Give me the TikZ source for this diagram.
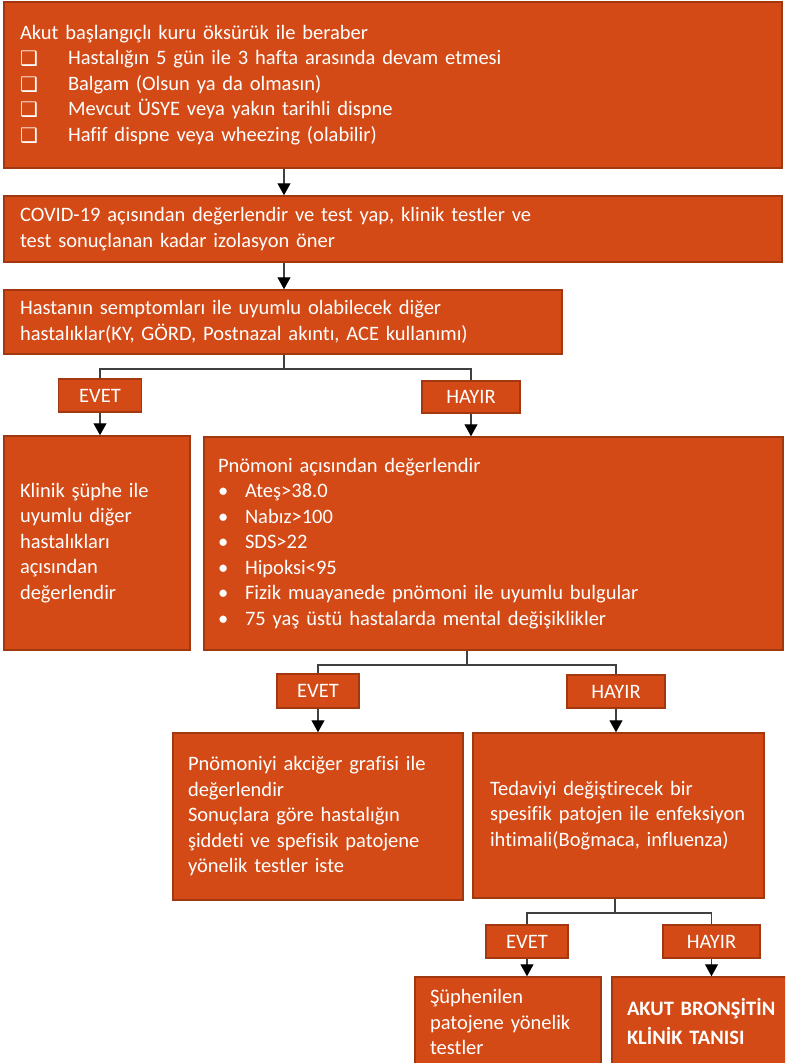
\documentclass[tikz,border=0pt]{standalone}
\usepackage{fontspec}
\setmainfont[Ligatures=NoCommon]{Carlito}
\newfontfamily\dejavu{DejaVu Sans}
\usetikzlibrary{arrows.meta}
\definecolor{boxfill}{HTML}{D34A17}
\definecolor{boxline}{HTML}{A23810}
\definecolor{connc}{HTML}{404040}
\newcommand{\cbx}{\makebox[48pt][l]{\raisebox{-1pt}{\dejavu\fontsize{20}{20}\selectfont ❑}}}
\newcommand{\bul}{\makebox[27pt][l]{•}}
\tikzset{
  box/.style={draw=boxline, fill=boxfill, line width=1.5pt, text=white, align=left,
    inner ysep=0pt, font=\fontsize{20.5}{25.5}\selectfont},
  lbl/.style={box, align=center, inner sep=0pt},
  conn/.style={draw=connc, line width=1.2pt},
  arr/.style={conn, -{Triangle[length=12pt,width=13pt,color=black]}}
}
\begin{document}
\begin{tikzpicture}[x=1pt,y=-1pt]
\path[use as bounding box] (0,0) rectangle (785,1063);
\clip (0,0) rectangle (785,1063);
% boxes
\node[box, minimum width=778pt, minimum height=166pt, text width=746pt, inner xsep=16pt] (b1) at (393,85)
 {Akut başlangıçlı kuru öksürük ile beraber\\
  \cbx Hastalığın 5 gün ile 3 hafta arasında devam etmesi\\
  \cbx Balgam (Olsun ya da olmasın)\\
  \cbx Mevcut ÜSYE veya yakın tarihli dispne\\
  \cbx Hafif dispne veya wheezing (olabilir)};
\node[box, minimum width=778pt, minimum height=66pt, text width=746pt, inner xsep=16pt] (b2) at (393,229)
 {COVID-19 açısından değerlendir ve test yap, klinik testler ve\\
  test sonuçlanan kadar izolasyon öner};
\node[box, minimum width=558pt, minimum height=64pt, text width=526pt, inner xsep=16pt] (b3) at (283,322)
 {Hastanın semptomları ile uyumlu olabilecek diğer\\
  hastalıklar(KY, GÖRD, Postnazal akıntı, ACE kullanımı)};
\node[lbl, minimum width=83pt, minimum height=33pt] (e1) at (100,395.5) {EVET};
\node[lbl, minimum width=98pt, minimum height=32pt] (h1) at (471,397) {HAYIR};
\node[box, minimum width=186pt, minimum height=214pt, text width=154pt, inner xsep=16pt] (kl) at (97,543)
 {Klinik şüphe ile\\ uyumlu diğer\\ hastalıkları\\ açısından\\ değerlendir};
\node[box, minimum width=579pt, minimum height=213pt, text width=551pt, inner xsep=14pt] (pn) at (493.5,543.5)
 {Pnömoni açısından değerlendir\\
  \bul Ateş>38.0\\
  \bul Nabız>100\\
  \bul SDS>22\\
  \bul Hipoksi<95\\
  \bul Fizik muayanede pnömoni ile uyumlu bulgular\\
  \bul 75 yaş üstü hastalarda mental değişiklikler};
\node[lbl, minimum width=82pt, minimum height=34pt] (e2) at (318,691) {EVET};
\node[lbl, minimum width=98pt, minimum height=33pt] (h2) at (616,691.5) {HAYIR};
\node[box, minimum width=290pt, minimum height=167pt, text width=260pt, inner xsep=15pt] (pg) at (318,816.5)
 {Pnömoniyi akciğer grafisi ile\\ değerlendir\\ Sonuçlara göre hastalığın\\ şiddeti ve spefisik patojene\\ yönelik testler iste};
\node[box, minimum width=291pt, minimum height=165pt, text width=257pt, inner xsep=17pt] (td) at (618.5,815.5)
 {Tedaviyi değiştirecek bir\\ spesifik patojen ile enfeksiyon\\ ihtimali(Boğmaca, influenza)};
\node[lbl, minimum width=82pt, minimum height=33pt] (e3) at (527,941.5) {EVET};
\node[lbl, minimum width=97pt, minimum height=33pt] (h3) at (711.5,941.5) {HAYIR};
\node[box, minimum width=186pt, minimum height=90pt, text width=156pt, inner xsep=15pt] (sp) at (508,1022)
 {Şüphenilen\\ patojene yönelik\\ testler};
\node[box, minimum width=200pt, minimum height=88pt, text width=170pt, inner xsep=15pt, font=\bfseries\fontsize{20.5}{29}\selectfont] (ak) at (712,1021)
 {AKUT BRONŞİTİN\\ KLİNİK TANISI};
% connectors
\coordinate (a1) at (284,0);
\coordinate (j1) at (284,369);
\coordinate (j2) at (467,665);
\coordinate (j3) at (615,913);
\draw[arr] (b1.south -| a1) -- (b2.north -| a1);
\draw[arr] (b2.south -| a1) -- (b3.north -| a1);
\draw[conn] (b3.south -| j1) -- (j1);
\draw[conn] (j1) -| (e1.north);
\draw[conn] (j1) -| (h1.north);
\draw[arr] (e1.south) -- (kl.north -| e1.south);
\draw[arr] (h1.south) -- (pn.north -| h1.south);
\draw[conn] (pn.south -| j2) -- (j2);
\draw[conn] (j2) -| (e2.north);
\draw[conn] (j2) -| (h2.north);
\draw[arr] (e2.south) -- (pg.north -| e2.south);
\draw[arr] (h2.south) -- (td.north -| h2.south);
\draw[conn] (td.south -| j3) -- (j3);
\draw[conn] (j3) -| (e3.north);
\draw[conn] (j3) -| (h3.north);
\draw[arr] (e3.south) -- (sp.north -| e3.south);
\draw[arr] (h3.south) -- (ak.north -| h3.south);
\end{tikzpicture}
\end{document}
